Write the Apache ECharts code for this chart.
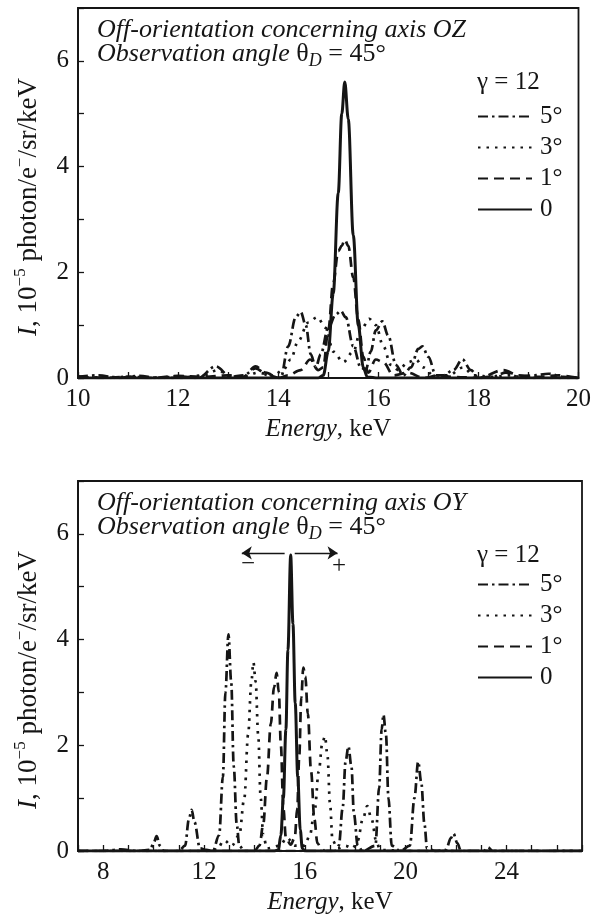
<!DOCTYPE html>
<html>
<head>
<meta charset="utf-8">
<script src="https://cdn.jsdelivr.net/npm/echarts@6/dist/echarts.min.js"></script>
<style>
html,body{margin:0;padding:0;background:#fff}
#chart{width:594px;height:918px}
</style>
</head>
<body>
<div id="chart"></div>
<script>
// legend names, same order in both panels
var names = ['5°', '3°', '1°', '0'];

// top panel: off-orientation about OZ, [energy keV, intensity]
var oz0 = [[10,0],[14.8,0],[14.9,0.05],[15.0,0.5],[15.1,1.6],[15.2,3.5],[15.27,5.0],[15.33,5.6],[15.4,4.9],[15.5,2.7],[15.6,1.0],[15.7,0.2],[15.78,0.02],[16,0],[20,0]];
var oz1 = [[10,0.03],[10.5,0],[11,0.02],[11.5,0],[12,0.04],[12.5,0.02],[13,0.05],[13.3,0.02],[13.55,0.22],[13.75,0.1],[14.0,0],[14.2,0.05],[14.45,0.15],[14.64,0.35],[14.8,0.15],[14.9,0.2],[15.0,0.9],[15.1,1.8],[15.2,2.4],[15.27,2.5],[15.33,2.62],[15.4,2.5],[15.5,1.9],[15.6,1.1],[15.7,0.4],[15.8,0.1],[15.95,0.35],[16.1,0.3],[16.3,0.05],[16.6,0.1],[16.9,0],[17.2,0.05],[17.5,0.02],[18.0,0],[18.5,0.15],[18.8,0.05],[19.2,0.02],[19.6,0.05],[20,0]];
var oz3 = [[10,0],[11,0.02],[12,0],[12.5,0.05],[12.8,0.15],[13.0,0.05],[13.3,0.02],[13.6,0.1],[13.9,0.05],[14.1,0.15],[14.25,0.35],[14.4,0.7],[14.6,1.05],[14.78,1.15],[14.95,0.95],[15.1,0.5],[15.3,0.3],[15.5,0.5],[15.65,0.9],[15.82,1.12],[15.95,1.0],[16.1,0.6],[16.25,0.25],[16.4,0.15],[16.6,0.3],[16.75,0.35],[16.9,0.2],[17.1,0.05],[17.4,0.05],[17.7,0.2],[17.9,0.05],[18.3,0.02],[18.6,0.05],[19.0,0],[20,0]];
var oz5 = [[10,0.02],[10.4,0.05],[10.8,0],[11.2,0.04],[11.6,0],[12.0,0.03],[12.4,0],[12.75,0.22],[13.05,0.02],[13.3,0.05],[13.55,0.18],[13.8,0.05],[14.05,0],[14.2,0.6],[14.35,1.15],[14.45,1.25],[14.55,1.0],[14.65,0.45],[14.75,0.2],[14.85,0.45],[15.0,0.95],[15.15,1.2],[15.25,1.27],[15.35,1.15],[15.5,0.6],[15.65,0.2],[15.75,0.15],[15.85,0.5],[15.95,0.9],[16.08,1.07],[16.2,0.8],[16.35,0.25],[16.5,0.05],[16.65,0.2],[16.8,0.55],[16.88,0.6],[17.0,0.4],[17.15,0.05],[17.3,0.05],[17.5,0.15],[17.68,0.35],[17.85,0.15],[18.0,0],[18.3,0.03],[18.55,0.1],[18.8,0.02],[19.1,0.05],[19.4,0.08],[19.7,0.02],[20,0]];

// bottom panel: off-orientation about OY
var oy0 = [[7,0],[14.8,0],[14.95,0.02],[15.05,0.3],[15.15,1.0],[15.25,2.3],[15.33,3.8],[15.44,5.6],[15.53,4.3],[15.62,2.8],[15.72,1.4],[15.82,0.4],[15.9,0.05],[16.0,0],[27,0]];
var oy1 = [[7,0],[14.0,0],[14.2,0.1],[14.35,0.5],[14.5,1.4],[14.65,2.4],[14.78,3.1],[14.88,3.37],[14.97,3.0],[15.05,2.0],[15.15,0.8],[15.25,0.25],[15.44,0.12],[15.6,0.25],[15.7,0.8],[15.78,1.8],[15.86,2.9],[15.94,3.47],[16.02,3.3],[16.12,2.6],[16.25,1.5],[16.38,0.6],[16.5,0.15],[16.65,0.05],[16.8,0],[27,0]];
var oy3 = [[7,0],[12.0,0],[12.5,0.02],[12.8,0.2],[13.1,0.1],[13.4,0.3],[13.6,1.0],[13.75,2.2],[13.88,3.2],[13.96,3.57],[14.05,3.2],[14.15,2.2],[14.25,1.0],[14.35,0.3],[14.5,0.05],[15.0,0.1],[15.3,0.25],[15.6,0.1],[16.0,0.1],[16.2,0.3],[16.4,0.8],[16.55,1.5],[16.7,2.05],[16.8,2.17],[16.9,1.8],[17.0,0.9],[17.1,0.2],[17.3,0.05],[17.6,0.1],[17.9,0.05],[18.1,0.2],[18.3,0.6],[18.48,0.85],[18.65,0.6],[18.85,0.15],[19.0,0.02],[20,0],[27,0]];
var oy5 = [[7,0],[8,0],[8.7,0.03],[9.3,0],[9.86,0.02],[10.0,0.15],[10.12,0.28],[10.25,0.1],[10.4,0],[11.0,0],[11.25,0.1],[11.4,0.6],[11.51,0.78],[11.62,0.55],[11.84,0.05],[12.1,0.02],[12.35,0],[12.6,0.3],[12.75,1.4],[12.85,3.0],[12.97,4.1],[13.08,3.2],[13.18,1.6],[13.3,0.5],[13.4,0.1],[13.6,0],[17.2,0],[17.35,0.1],[17.5,0.8],[17.62,1.7],[17.73,1.98],[17.85,1.6],[17.95,0.7],[18.1,0.1],[18.3,0],[18.8,0.1],[18.95,1.2],[19.05,2.3],[19.12,2.58],[19.22,2.2],[19.32,1.0],[19.45,0.1],[19.8,0],[20.17,0.1],[20.35,1.0],[20.5,1.69],[20.62,1.3],[20.75,0.5],[20.85,0.05],[21.2,0],[21.6,0.02],[21.8,0.25],[21.9,0.33],[22.05,0.15],[22.2,0],[23.1,0],[23.27,0.07],[23.45,0],[27,0]];

// arrows above the OY peak: [from, to] energy, at height arrowY
var arrowPairs = [[15.2, 13.5], [15.6, 17.3]];
var arrowY = 5.64;
var signMarks = [[13.75, 5.42, '−'], [17.36, 5.38, '+']];

var serif = '"Liberation Serif", "Times New Roman", serif';
var ink = '#151515';

var styles = {
    '5°': {type: [10, 4, 2.5, 4], width: 2.7},
    '3°': {type: [2.5, 6], width: 2.7},
    '1°': {type: [10, 6], width: 2.7},
    '0': {type: 'solid', width: 3}
};

function spectrum(name, data, idx) {
    return {
        name: name,
        type: 'line',
        xAxisIndex: idx,
        yAxisIndex: idx,
        data: data,
        symbol: 'none',
        showSymbol: false,
        smooth: 0.35,
        smoothMonotone: 'x',
        clip: true,
        lineStyle: {color: ink, width: styles[name].width, type: styles[name].type},
        itemStyle: {color: ink},
        animation: false
    };
}

function yAxis(idx) {
    return {
        type: 'value', gridIndex: idx, min: 0, max: 7, interval: 1,
        axisLine: {show: true, lineStyle: {color: ink, width: 1.8}},
        axisTick: {inside: true, length: 6, lineStyle: {color: ink, width: 1.3}},
        splitLine: {show: false},
        axisLabel: {
            margin: 9, fontFamily: serif, fontSize: 25, color: ink,
            formatter: function (v) { return v % 2 === 0 ? v : ''; }
        },
        name: '{i|I}, 10{s|−5} photon/e{s|−}/sr/keV',
        nameLocation: 'middle',
        nameGap: 32,
        nameTextStyle: {
            fontFamily: serif, fontSize: 27, color: ink, lineHeight: 34,
            padding: [0, 28, 0, 0],
            rich: {
                i: {fontFamily: serif, fontSize: 27, fontStyle: 'italic', color: ink, lineHeight: 34},
                s: {fontFamily: serif, fontSize: 17, color: ink, verticalAlign: 'top', lineHeight: 34}
            }
        }
    };
}

function xAxis(idx, min, max, step) {
    return {
        type: 'value', gridIndex: idx, min: min, max: max, interval: 1,
        axisLine: {show: true, onZero: false, lineStyle: {color: ink, width: 1.8}},
        axisTick: {inside: true, length: 6, lineStyle: {color: ink, width: 1.3}},
        splitLine: {show: false},
        axisLabel: {
            margin: 9, fontFamily: serif, fontSize: 25, color: ink,
            formatter: function (v) { return v % step === 0 ? v : ''; }
        },
        name: '{i|Energy}, keV',
        nameLocation: 'middle',
        nameGap: 39,
        nameTextStyle: {
            fontFamily: serif, fontSize: 25, color: ink,
            rich: {i: {fontFamily: serif, fontSize: 25, fontStyle: 'italic', color: ink}}
        }
    };
}

function legend(top) {
    return {
        data: names, orient: 'vertical', left: 477, top: top,
        padding: 0,
        itemWidth: 54, itemHeight: 14, itemGap: 6,
        selectedMode: false,
        itemStyle: {opacity: 0},
        textStyle: {fontFamily: serif, fontSize: 25, color: ink, lineHeight: 24, padding: [0, 0, 0, 3]}
    };
}

function caption(top, axisName) {
    var richStyle = {
        it: {fontFamily: serif, fontSize: 26, fontStyle: 'italic', fill: ink, lineHeight: 32},
        n: {fontFamily: serif, fontSize: 26, fill: ink, lineHeight: 32},
        sub: {fontFamily: serif, fontSize: 18, fontStyle: 'italic', fill: ink, verticalAlign: 'bottom', lineHeight: 32}
    };
    return [
        {type: 'text', left: 97, top: top + 17, silent: true,
         style: {text: 'Off-orientation concerning axis ' + axisName,
                 font: 'italic 26px "Liberation Serif"', fill: ink}},
        {type: 'text', left: 97, top: top + 41, silent: true,
         style: {text: '{it|Observation angle }{n|θ}{sub|D}{n| = 45°}', rich: richStyle, fill: ink}},
        {type: 'text', left: 477, top: top + 70, silent: true,
         style: {text: 'γ = 12', font: '25px "Liberation Serif"', fill: ink}}
    ];
}

var series = [];
[oz5, oz3, oz1, oz0].forEach(function (d, i) { series.push(spectrum(names[i], d, 0)); });
[oy5, oy3, oy1, oy0].forEach(function (d, i) { series.push(spectrum(names[i], d, 1)); });

// arrows and signs ride on the OY solid series
var oySolid = series[series.length - 1];
oySolid.markLine = {
    silent: true, animation: false,
    symbol: ['none', 'arrow'], symbolSize: 10,
    label: {show: false},
    lineStyle: {color: ink, width: 1.4, type: 'solid'},
    data: arrowPairs.map(function (p) {
        return [{coord: [p[0], arrowY]}, {coord: [p[1], arrowY]}];
    })
};
oySolid.markPoint = {
    silent: true, animation: false, symbol: 'circle', symbolSize: 0,
    label: {show: true, position: 'inside', fontFamily: serif, fontSize: 25, color: ink,
            formatter: function (p) { return p.data.sign; }},
    data: signMarks.map(function (s) { return {coord: [s[0], s[1]], sign: s[2]}; })
};

var chart = echarts.init(document.getElementById('chart'));
chart.setOption({
    backgroundColor: '#fff',
    animation: false,
    grid: [
        {left: 78, top: 8, width: 504, height: 370, show: true, borderColor: ink, borderWidth: 1.8},
        {left: 78, top: 481, width: 504, height: 370, show: true, borderColor: ink, borderWidth: 1.8}
    ],
    xAxis: [xAxis(0, 10, 20, 2), xAxis(1, 7, 27, 4)],
    yAxis: [yAxis(0), yAxis(1)],
    legend: [legend(104), legend(572)],
    graphic: caption(0, 'OZ').concat(caption(473, 'OY')),
    series: series
});
</script>
</body>
</html>
